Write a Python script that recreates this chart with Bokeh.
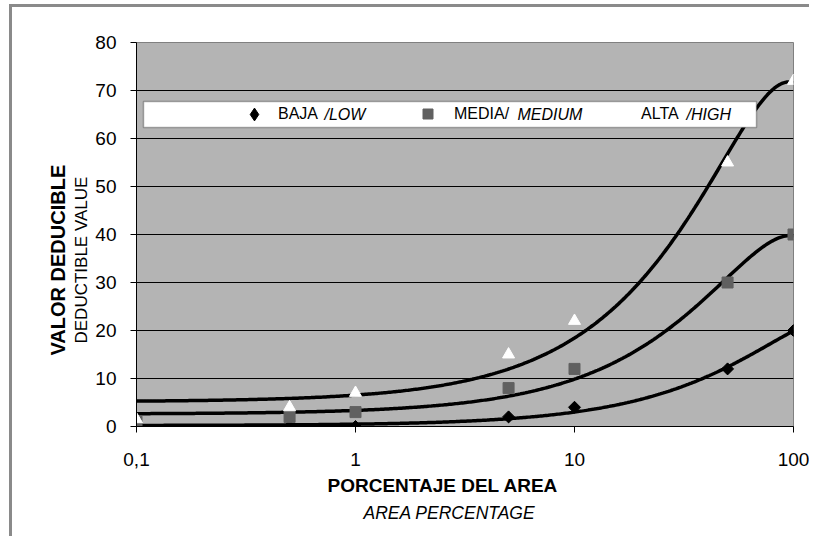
import numpy as np
from bokeh.plotting import figure
from bokeh.models import (Range1d, FixedTicker, CustomJSTickFormatter, Legend,
                          LegendItem, Label, BoxAnnotation, Title)
from bokeh.embed import file_html
from bokeh.resources import INLINE

# ---- data ----
area_pct = [0.1, 0.5, 1, 5, 10, 50, 100]
baja = [0, 0, 0, 2, 4, 12, 20]
media = [1, 2, 3, 8, 12, 30, 40]
alta = [1.5, 4, 7, 15, 22, 55, 72]
x_ticks = [0.1, 1, 10, 100]
y_ticks = [0, 10, 20, 30, 40, 50, 60, 70, 80]
grid_ticks = [10, 20, 30, 40, 50, 60, 70]

FONT = "Liberation Sans"

p = figure(x_axis_type="log", x_range=Range1d(0.1, 100), y_range=Range1d(0, 80),
           frame_width=657, frame_height=384,
           min_border_left=124, min_border_right=16, min_border_top=35, min_border_bottom=110,
           output_backend="svg", toolbar_location=None,
           background_fill_color="#b4b4b4", border_fill_color="white",
           outline_line_color="#808080", outline_line_width=1,
           styles={"border-left": "3px solid #8a8a8a", "border-top": "3px solid #8a8a8a",
                   "margin-left": "9px", "margin-top": "4px"})

# polynomial (order 2) trendlines, as in the source spreadsheet chart
xs = np.logspace(np.log10(area_pct[0]), np.log10(area_pct[-1]), 400)
for series in (alta, media, baja):
    coef = np.polyfit(area_pct, series, 2)
    p.line(xs, np.polyval(coef, xs), line_color="black", line_width=3.5)

# diamond glyph (used for the legend entry), covered by the rotated squares
r_baja_leg = p.scatter(area_pct, baja, marker="diamond", size=11,
                       fill_color="black", line_color="black")
r_baja = p.scatter(area_pct, baja, marker="square", angle=np.pi / 4, size=8.5,
                   fill_color="black", line_color="black")
r_media = p.scatter(area_pct, media, marker="square", size=11,
                    fill_color="#606060", line_color="#606060")
r_alta = p.scatter(area_pct, alta, marker="triangle", size=12,
                   fill_color="white", line_color="white")

# axes
p.xaxis.ticker = FixedTicker(ticks=x_ticks)
p.xaxis.formatter = CustomJSTickFormatter(code="return String(tick).replace('.', ',');")
p.yaxis.ticker = FixedTicker(ticks=y_ticks)
for ax, standoff in ((p.xaxis, 20), (p.yaxis, 14)):
    ax.axis_line_color = "black"
    ax.axis_line_width = 1
    ax.major_tick_line_color = "black"
    ax.major_tick_in = 0
    ax.major_tick_out = 6
    ax.minor_tick_line_color = None
    ax.major_label_text_font = FONT
    ax.major_label_text_font_size = "19px"
    ax.major_label_text_color = "black"
    ax.major_label_standoff = standoff

p.xgrid.visible = False
p.ygrid.ticker = FixedTicker(ticks=grid_ticks)
p.ygrid.grid_line_color = "black"
p.ygrid.grid_line_width = 1

# legend box
p.add_layout(BoxAnnotation(left=7, right=620, bottom=299, top=325,
                           left_units="screen", right_units="screen",
                           bottom_units="screen", top_units="screen",
                           fill_color="white", fill_alpha=1,
                           line_color="black", line_width=1.5))


def add_item(label, renderer, xoff, yoff, gsize, standoff):
    leg = Legend(items=[LegendItem(label=label, renderers=[renderer])],
                 location=(xoff, yoff), orientation="horizontal",
                 padding=0, spacing=0, margin=0,
                 glyph_width=gsize, glyph_height=gsize, label_height=20,
                 label_standoff=standoff,
                 label_text_font=FONT, label_text_font_size="16px",
                 label_text_color="black",
                 background_fill_alpha=0, border_line_alpha=0)
    p.add_layout(leg)


add_item("BAJA", r_baja_leg, 102, 296, 32, 8)
add_item("MEDIA/", r_media, 279, 300, 25, 14)
add_item("ALTA", r_alta, 470, 302, 20, 15)

for txt, xo in (("/LOW", 188), ("MEDIUM", 381), ("/HIGH", 550)):
    p.add_layout(Label(x=xo, y=312, x_units="screen", y_units="screen", text=txt,
                       text_font=FONT, text_font_size="16px", text_font_style="italic",
                       text_align="left", text_baseline="middle", text_color="black"))

# axis titles
p.add_layout(Title(text="DEDUCTIBLE VALUE", align="left", offset=83, standoff=3,
                   text_font=FONT, text_font_size="17px", text_font_style="normal",
                   text_line_height=0.85, text_color="black"), "left")
p.add_layout(Title(text="VALOR DEDUCIBLE", align="left", offset=71, standoff=0,
                   text_font=FONT, text_font_size="20px", text_font_style="bold",
                   text_color="black"), "left")
p.add_layout(Title(text="PORCENTAJE DEL AREA", align="left", offset=191, standoff=9,
                   text_font=FONT, text_font_size="19px", text_font_style="bold",
                   text_line_height=0.85, text_color="black"), "below")
p.add_layout(Title(text="AREA PERCENTAGE", align="left", offset=227, standoff=0,
                   text_font=FONT, text_font_size="17.5px", text_font_style="italic",
                   text_color="black"), "below")

open("out.html", "w").write(file_html(p, INLINE))
